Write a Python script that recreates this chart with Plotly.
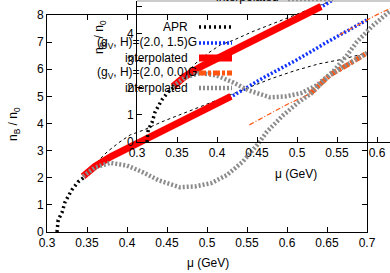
import plotly.graph_objects as go

W, H = 390, 273

# ---- data (mu in GeV, n_B/n_0) ----
mu_apr = [0.3125, 0.314, 0.319, 0.3225, 0.331, 0.339, 0.3475]
n_apr = [0.0, 0.44, 0.74, 1.1, 1.55, 1.85, 2.05]
mu_apr_ext = [0.3475, 0.36, 0.375, 0.39, 0.404, 0.42, 0.445, 0.47, 0.49, 0.52, 0.55, 0.58, 0.61, 0.64, 0.666, 0.7]
n_apr_ext = [2.05, 2.5, 2.95, 3.3, 3.58, 3.75, 4.08, 4.38, 4.6, 4.95, 5.3, 5.65, 5.95, 6.2, 6.35, 6.6]
mu_blue = [0.47, 0.5, 0.53, 0.57, 0.6125, 0.65, 0.7]
n_blue = [4.08, 4.52, 4.98, 5.68, 6.35, 7.0, 7.82]
mu_red = [0.345, 0.36, 0.38, 0.404, 0.43, 0.455, 0.475, 0.495, 0.515, 0.53]
n_red = [2.05, 2.42, 2.78, 3.14, 3.55, 3.9, 4.2, 4.5, 4.78, 5.0]
mu_or_low = [0.553, 0.575, 0.6, 0.629]
n_or_low = [3.95, 4.3, 4.7, 5.1]
mu_or = [0.629, 0.654, 0.675, 0.7]
n_or = [5.1, 5.8, 6.15, 6.6]
mu_gray = [0.345, 0.36, 0.379, 0.40, 0.42, 0.44, 0.466, 0.485, 0.505, 0.525, 0.545,
           0.5625, 0.575, 0.595, 0.615, 0.63, 0.654, 0.675, 0.7]
n_gray = [2.05, 2.38, 2.55, 2.45, 2.2, 1.9, 1.65, 1.68, 1.8, 2.1, 2.6,
          3.2, 3.7, 4.3, 4.8, 5.1, 5.8, 6.15, 6.6]

main_xticks = [0.3, 0.35, 0.4, 0.45, 0.5, 0.55, 0.6, 0.65, 0.7]
main_yticks = [0, 1, 2, 3, 4, 5, 6, 7, 8]
inset_xticks = [0.3, 0.35, 0.4, 0.45, 0.5, 0.55, 0.6]
inset_yticks = [0, 1, 2, 3, 4, 5]

legend_labels = ["APR", "(g<sub>V</sub>, H)=(2.0, 1.5)G", "interpolated",
                 "(g<sub>V</sub>, H)=(2.0, 0.0)G", "interpolated"]

FONT = "Liberation Sans, Arial, sans-serif"
BLACK = "#000000"
BLUE = "#1030ff"
RED = "#ff0000"
ORANGE = "#ff5511"
GRAY = "#8c8c8c"

styles = {
    "apr": dict(color=BLACK, width=3.5, dash="2px,3px"),
    "apr_ext": dict(color=BLACK, width=1, dash="3px,3px"),
    "blue": dict(color=BLUE, width=3.5, dash="2px,2px"),
    "red": dict(color=RED, width=7),
    "or_low": dict(color=ORANGE, width=1.2, dash="5px,2px,1px,2px"),
    "or": dict(color=ORANGE, width=5, dash="7px,2px,3px,2px"),
    "gray": dict(color=GRAY, width=4.5, dash="2px,2px"),
}

series = [
    (mu_apr_ext, n_apr_ext, "apr_ext"),
    (mu_apr, n_apr, "apr"),
    (mu_blue, n_blue, "blue"),
    (mu_red, n_red, "red"),
    (mu_or_low, n_or_low, "or_low"),
    (mu_or, n_or, "or"),
    (mu_gray, n_gray, "gray"),
]

fig = go.Figure()
for xa, ya in (("x", "y"), ("x2", "y2")):
    for mx, ny, key in series:
        fig.add_trace(go.Scatter(x=mx, y=ny, mode="lines", line=styles[key],
                                 xaxis=xa, yaxis=ya, showlegend=False,
                                 hoverinfo="skip"))

def px(x):
    return x / W

def py(y):
    return 1 - y / H

axis_common = dict(showgrid=False, zeroline=False, showline=True, linecolor=BLACK,
                   linewidth=1, ticks="inside", ticklen=5, tickcolor=BLACK,
                   tickfont=dict(family=FONT, size=12, color=BLACK))

fig.update_layout(
    width=W, height=H,
    margin=dict(l=0, r=0, t=0, b=0, autoexpand=False),
    paper_bgcolor="white", plot_bgcolor="rgba(0,0,0,0)",
    showlegend=False,
    xaxis=dict(domain=[px(47), px(367)], range=[0.3, 0.7], tickvals=main_xticks,
               ticktext=[f"{v:g}" for v in main_xticks], mirror="ticks",
               anchor="y", **axis_common),
    yaxis=dict(domain=[py(232), py(15)], range=[0, 8], tickvals=main_yticks,
               mirror="ticks", anchor="x", **axis_common),
    xaxis2=dict(domain=[px(137), 1.0], range=[0.3, 0.3 + (W - 137) / 800.0],
                tickvals=inset_xticks, ticktext=[f"{v:g}" for v in inset_xticks],
                anchor="y2", **axis_common),
    yaxis2=dict(domain=[py(142), py(1)], range=[0, 141 / 27.1], tickvals=inset_yticks,
                anchor="x2", **axis_common),
)

ann = []
def text(x, y, s, xanchor="center", size=12, angle=0):
    ann.append(dict(x=px(x), y=py(y), xref="paper", yref="paper", text=s,
                    showarrow=False, xanchor=xanchor, yanchor="middle", textangle=angle,
                    font=dict(family=FONT, size=size, color=BLACK)))

text(208, 263, "μ (GeV)")
text(296, 174, "μ (GeV)")
text(14, 124, "n<sub>B</sub> / n<sub>0</sub>", angle=-90)
text(100, 37, "n<sub>B</sub> / n<sub>0</sub>", angle=-90)

leg_y = [27, 43, 58, 73, 88]
leg_right = [190, 199, 190, 199, 190]
leg_keys = ["apr", "blue", "red", "or", "gray"]
shapes = []
for lbl, yy, xr, key in zip(legend_labels, leg_y, leg_right, leg_keys):
    text(xr, yy, lbl, xanchor="right")
    st = dict(styles[key])
    shapes.append(dict(type="line", xref="paper", yref="paper", x0=px(199), x1=px(232),
                       y0=py(yy), y1=py(yy), line=st))

# inset key (cut off at the top)
text(248, -3, "interpolated")
shapes.append(dict(type="line", xref="paper", yref="paper", x0=px(288), x1=px(333),
                   y0=py(-1), y1=py(-1), line=dict(styles["gray"])))
# inset top border line
shapes.append(dict(type="line", xref="paper", yref="paper", x0=px(137), x1=1.0,
                   y0=py(1), y1=py(1), line=dict(color="#999999", width=1)))

fig.update_layout(annotations=ann, shapes=shapes)
fig.write_html("out.html", config={"displayModeBar": False, "staticPlot": True},
               post_script="document.body.style.margin='0';document.body.style.overflow='hidden';")
